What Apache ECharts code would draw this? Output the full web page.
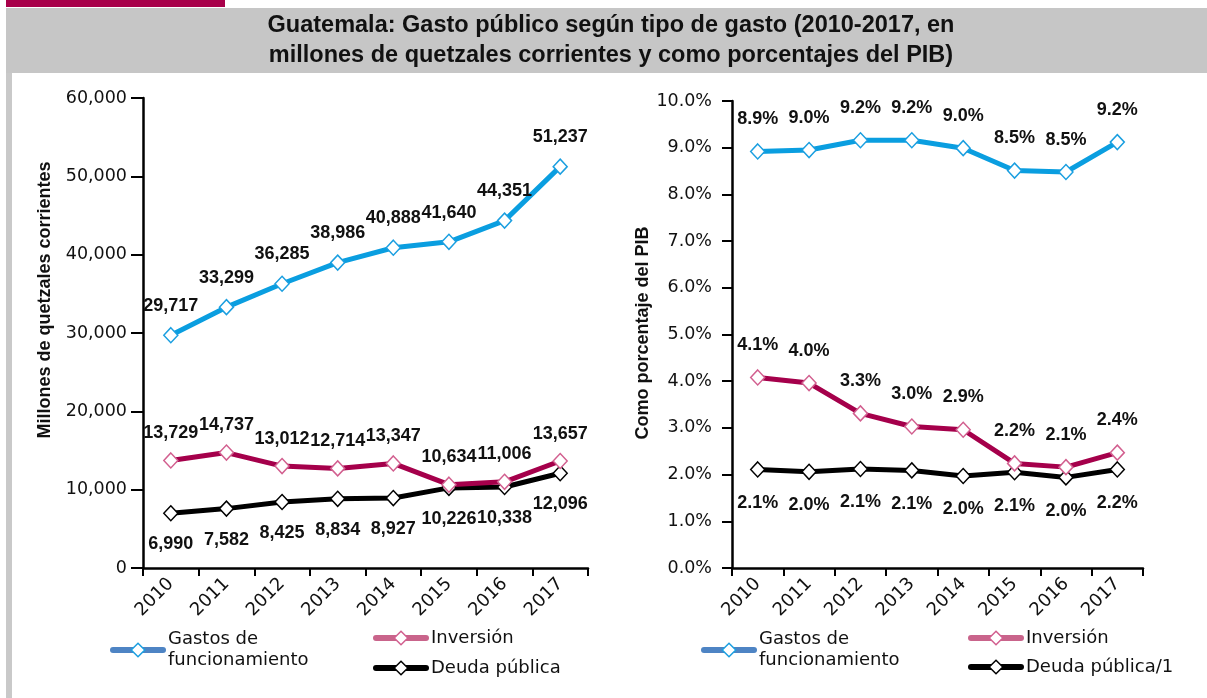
<!DOCTYPE html>
<html>
<head>
<meta charset="utf-8">
<script src="https://cdn.jsdelivr.net/npm/echarts@6/dist/echarts.min.js"></script>
<style>
  html, body { margin: 0; padding: 0; background: #fff; }
  #chart { width: 1207px; height: 698px; }
</style>
</head>
<body>
<div id="chart"></div>
<script>
// datos
const years = ['2010', '2011', '2012', '2013', '2014', '2015', '2016', '2017'];
// millones de quetzales
const gastosMq = [29717, 33299, 36285, 38986, 40888, 41640, 44351, 51237];
const inversionMq = [13729, 14737, 13012, 12714, 13347, 10634, 11006, 13657];
const deudaMq = [6990, 7582, 8425, 8834, 8927, 10226, 10338, 12096];
// % del PIB (valores estimados del grafico) y sus etiquetas
const gastosPib = [8.92, 8.95, 9.16, 9.16, 8.99, 8.51, 8.48, 9.12];
const inversionPib = [4.08, 3.96, 3.31, 3.03, 2.96, 2.24, 2.16, 2.47];
const deudaPib = [2.11, 2.06, 2.12, 2.09, 1.97, 2.05, 1.94, 2.11];
const gastosPibLbl = ['8.9%', '9.0%', '9.2%', '9.2%', '9.0%', '8.5%', '8.5%', '9.2%'];
const inversionPibLbl = ['4.1%', '4.0%', '3.3%', '3.0%', '2.9%', '2.2%', '2.1%', '2.4%'];
const deudaPibLbl = ['2.1%', '2.0%', '2.1%', '2.1%', '2.0%', '2.1%', '2.0%', '2.2%'];

const azul = '#0a9ee0';
const rojo = '#a5004b';
const negro = '#000';
const tickFont = 'DejaVu Sans';
const boldFont = 'Liberation Sans';

const myChart = echarts.init(document.getElementById('chart'));

function xAxisCfg(gi) {
  return {
    type: 'category',
    gridIndex: gi,
    data: years,
    boundaryGap: true,
    axisLine: { lineStyle: { color: '#000', width: 2.5 } },
    axisTick: { show: true, length: 8, lineStyle: { color: '#000', width: 2 } },
    axisLabel: { rotate: 45, margin: 13, fontFamily: tickFont, fontSize: 18, color: '#111', interval: 0 },
    splitLine: { show: false }
  };
}

function yAxisCfg(gi, max, interval, fmt, tickLen, margin) {
  return {
    type: 'value',
    gridIndex: gi,
    min: 0,
    max: max,
    interval: interval,
    axisLine: { show: true, lineStyle: { color: '#000', width: 2.5 } },
    axisTick: { show: true, length: tickLen, lineStyle: { color: '#000', width: 2 } },
    axisLabel: { formatter: fmt, margin: margin, fontFamily: tickFont, fontSize: 17.5, color: '#111' },
    splitLine: { show: false }
  };
}

function lineSerie(name, data, gi, color, border, pos, dist, labels) {
  return {
    name: name,
    type: 'line',
    xAxisIndex: gi,
    yAxisIndex: gi,
    data: data,
    symbol: 'diamond',
    symbolSize: [14, 15],
    lineStyle: { color: color, width: 5, cap: 'round', join: 'round' },
    itemStyle: { color: '#fff', borderColor: border, borderWidth: 1.5 },
    label: {
      show: true,
      position: pos,
      distance: dist,
      fontFamily: boldFont,
      fontWeight: 'bold',
      fontSize: 18,
      color: '#111',
      formatter: labels
        ? function (p) { return labels[p.dataIndex]; }
        : function (p) { return p.value.toLocaleString('en-US'); }
    },
    emphasis: { disabled: true },
    animation: false
  };
}

function legendCfg(left, top, name, line, border) {
  return {
    left: left,
    top: top,
    orient: 'vertical',
    padding: 0,
    itemWidth: 50,
    itemHeight: 17,
    selectedMode: false,
    textStyle: { fontFamily: tickFont, fontSize: 18, color: '#111', lineHeight: 21 },
    lineStyle: { width: 6, cap: 'round' },
    formatter: function (n) {
      return n === 'Gastos de funcionamiento' ? 'Gastos de\nfuncionamiento' : n;
    },
    data: [{
      name: name,
      lineStyle: { color: line },
      itemStyle: { color: '#fff', borderColor: border, borderWidth: 1.5 }
    }]
  };
}

const option = {
  backgroundColor: '#fff',
  animation: false,
  graphic: [
    { type: 'rect', shape: { x: 6, y: 0, width: 219, height: 7 }, style: { fill: '#a8004a' }, silent: true },
    { type: 'rect', shape: { x: 6, y: 8, width: 1201, height: 65 }, style: { fill: '#c6c6c6' }, silent: true },
    { type: 'rect', shape: { x: 6, y: 73, width: 6, height: 625 }, style: { fill: '#c9c9c9' }, silent: true },
    {
      type: 'text', x: 611, y: 26, silent: true,
      style: { text: 'Guatemala: Gasto público según tipo de gasto (2010-2017, en', fill: '#111',
        font: 'bold 23.5px "Liberation Sans"', align: 'center', verticalAlign: 'middle' }
    },
    {
      type: 'text', x: 611, y: 56, silent: true,
      style: { text: 'millones de quetzales corrientes y como porcentajes del PIB)', fill: '#111',
        font: 'bold 23.5px "Liberation Sans"', align: 'center', verticalAlign: 'middle' }
    },
    {
      type: 'text', x: 45, y: 300, rotation: Math.PI / 2, silent: true,
      style: { text: 'Millones de quetzales corrientes', fill: '#111',
        font: 'bold 18px "Liberation Sans"', align: 'center', verticalAlign: 'middle' }
    },
    {
      type: 'text', x: 643, y: 333, rotation: Math.PI / 2, silent: true,
      style: { text: 'Como porcentaje del PIB', fill: '#111',
        font: 'bold 18px "Liberation Sans"', align: 'center', verticalAlign: 'middle' }
    }
  ],
  grid: [
    { left: 143, top: 98, width: 445, height: 470 },
    { left: 732, top: 101, width: 411, height: 467 }
  ],
  xAxis: [xAxisCfg(0), xAxisCfg(1)],
  yAxis: [
    yAxisCfg(0, 60000, 10000, function (v) { return v.toLocaleString('en-US'); }, 12, 16),
    yAxisCfg(1, 10, 1, function (v) { return v.toFixed(1) + '%'; }, 10, 20)
  ],
  legend: [
    legendCfg(110, 629, 'Gastos de funcionamiento', '#4e84c4', '#1b9fe0'),
    legendCfg(373, 627.5, 'Inversión', '#c9648b', '#d25f8f'),
    legendCfg(373, 657.5, 'Deuda pública', '#000', '#000'),
    legendCfg(701, 629, 'Gastos de funcionamiento', '#4e84c4', '#1b9fe0'),
    legendCfg(968, 627.5, 'Inversión', '#c9648b', '#d25f8f'),
    legendCfg(968, 656.5, 'Deuda pública/1', '#000', '#000')
  ],
  series: [
    lineSerie('Gastos de funcionamiento', gastosMq, 0, azul, '#1b9fe0', 'top', 12),
    lineSerie('Deuda pública', deudaMq, 0, negro, '#000', 'bottom', 14),
    lineSerie('Inversión', inversionMq, 0, rojo, '#d25f8f', 'top', 10),
    lineSerie('Gastos de funcionamiento', gastosPib, 1, azul, '#1b9fe0', 'top', 15, gastosPibLbl),
    lineSerie('Deuda pública/1', deudaPib, 1, negro, '#000', 'bottom', 16, deudaPibLbl),
    lineSerie('Inversión', inversionPib, 1, rojo, '#d25f8f', 'top', 15, inversionPibLbl)
  ]
};

myChart.setOption(option);
</script>
</body>
</html>
